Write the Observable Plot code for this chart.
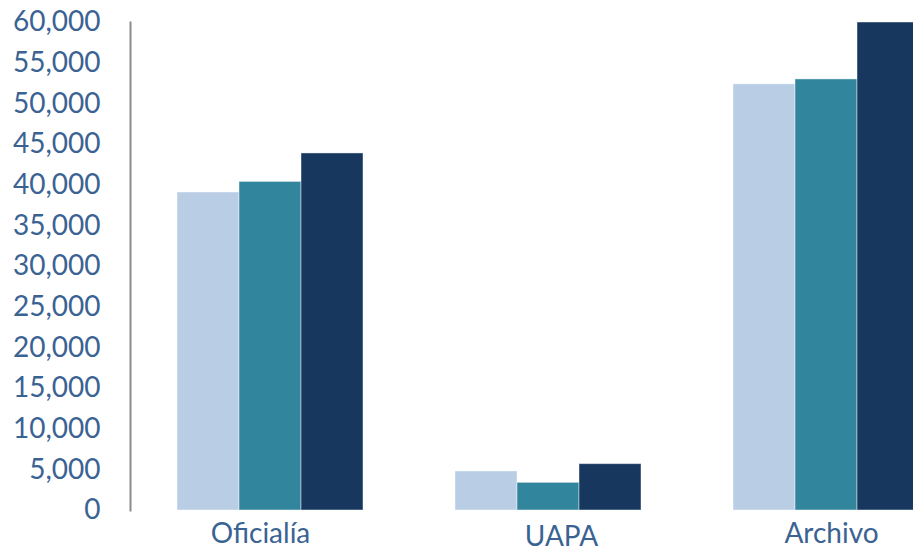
<!DOCTYPE html>
<html>
<head>
<meta charset="utf-8">
<script src="https://cdn.jsdelivr.net/npm/d3@7"></script>
<script src="https://cdn.jsdelivr.net/npm/@observablehq/plot@0.6"></script>
<style>
  html, body { margin: 0; padding: 0; background: white; overflow: hidden; }
  #chart { width: 913px; height: 551px; overflow: hidden; }
</style>
</head>
<body>
<div id="chart"></div>
<script>
// Data
const categories = ["Oficialía", "UAPA", "Archivo"];
const series = ["Serie 1", "Serie 2", "Serie 3"];
const values1 = [39100, 4800, 52400];
const values2 = [40400, 3400, 53000];
const values3 = [43900, 5700, 60000];
const yTicks = d3.range(0, 60001, 5000);

const seriesValues = [values1, values2, values3];
const data = [];
categories.forEach((c, i) => {
  series.forEach((s, j) => {
    data.push({category: c, series: s, value: seriesValues[j][i]});
  });
});

const textColor = "#3A6393";
const colors = ["#B9CDE5", "#31859C", "#17375E"];
// small per-label nudges to mimic the original label placement
const labelNudge = {"Oficialía": [-10, 0], "UAPA": [13, 3], "Archivo": [5, 0]};

const chart = Plot.plot({
  width: 913,
  height: 551,
  marginTop: 22,
  marginBottom: 41,
  marginLeft: 130,
  marginRight: -53,
  style: {fontFamily: "Lato, 'Open Sans', sans-serif", fontSize: "28px", overflow: "hidden", background: "white"},
  fx: {domain: categories, paddingInner: 0.3326, paddingOuter: 0.1663, axis: null, label: null},
  x: {domain: series, padding: 0, axis: null},
  y: {domain: [0, 60000], axis: null},
  color: {domain: series, range: colors},
  marks: [
    Plot.barY(data, {
      fx: "category", x: "series", y: "value", fill: "series",
      stroke: "white", strokeWidth: 1, strokeOpacity: 0.45
    }),
    Plot.frame({anchor: "left", facetAnchor: "left", dx: -47, stroke: "#8C8C8C", strokeWidth: 2}),
    Plot.axisY({
      ticks: yTicks, tickFormat: d3.format(","), tickSize: 0, tickPadding: 30,
      dx: -47, label: null, color: textColor, fontSize: 28
    }),
    ...categories.map(c => Plot.axisFx({
      anchor: "bottom", ticks: [c], tickSize: 0, tickPadding: 13, label: null,
      dx: labelNudge[c][0], dy: labelNudge[c][1],
      color: textColor, fontSize: 28
    }))
  ]
});
document.getElementById("chart").appendChild(chart);
</script>
</body>
</html>
